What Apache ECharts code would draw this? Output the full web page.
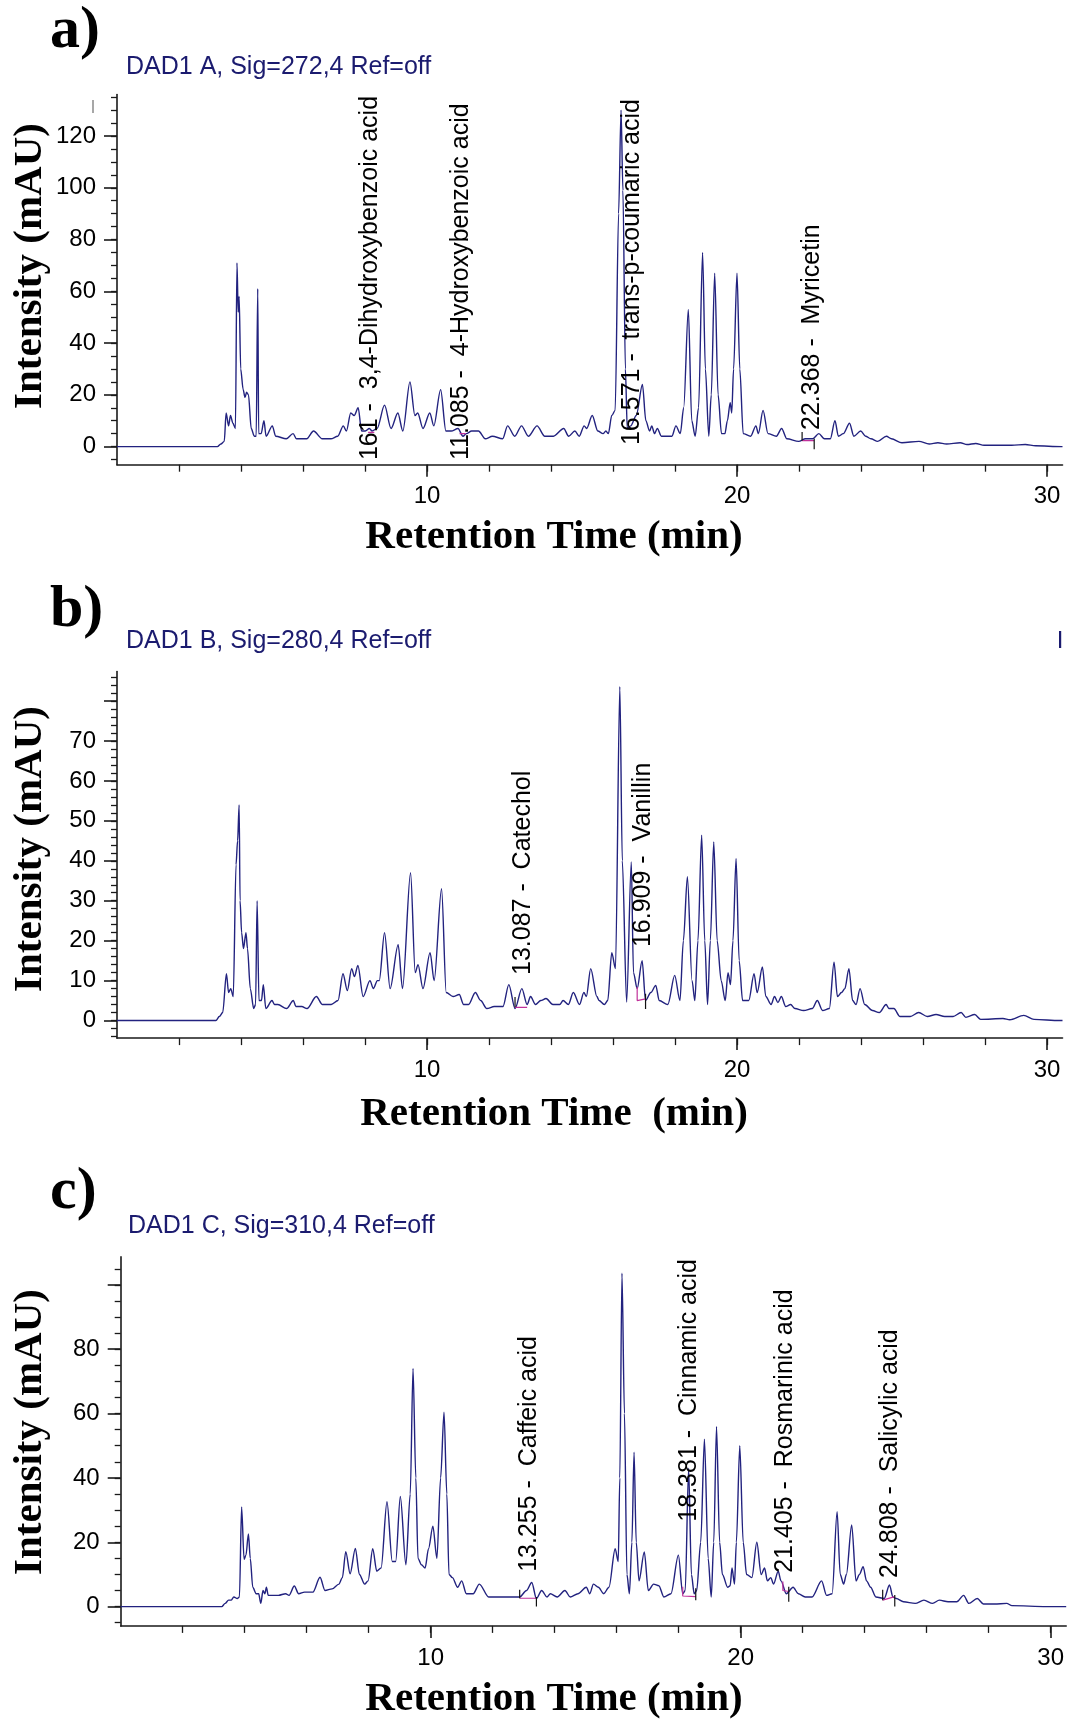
<!DOCTYPE html>
<html><head><meta charset="utf-8">
<script src="https://cdn.jsdelivr.net/npm/echarts@6/dist/echarts.min.js"></script>
<style>html,body{margin:0;padding:0;background:#fff}#c{width:1070px;height:1721px}</style>
</head><body><div id="c"></div><script>
// ---------- DATA (retention time min, intensity mAU) ----------
const traceA = [[0,0],[3.24,0],[3.35,1],[3.46,2],[3.52,13],[3.60,8],[3.66,12],[3.74,9],[3.82,7],[3.87,71],[3.91,52],[3.94,58],[3.99,30],[4.07,22],[4.13,19],[4.18,21],[4.24,20],[4.33,7],[4.43,4],[4.49,4],[4.54,61],[4.57,5],[4.65,5],[4.74,10],[4.81,4],[5.01,8],[5.12,4],[5.46,3],[5.68,5],[5.79,3],[6.12,3],[6.34,6],[6.62,3],[6.90,3],[7.12,4],[7.30,8],[7.40,6],[7.54,13],[7.65,12],[7.78,15],[7.89,6],[8.01,6],[8.14,7],[8.23,6],[8.39,7],[8.63,16],[8.84,7],[9.06,13],[9.22,6],[9.45,25],[9.61,12],[9.70,13],[9.87,7],[10.09,13],[10.22,8],[10.44,22],[10.61,6],[10.78,6],[11.00,7],[11.16,4],[11.27,5],[11.44,6],[11.66,6],[11.88,3],[12.11,4],[12.44,3],[12.60,8],[12.83,4],[13.05,8],[13.27,4],[13.55,8],[13.80,4],[14.08,4],[14.41,7],[14.57,4],[14.77,6],[14.91,4],[15.07,8],[15.15,7],[15.33,12],[15.51,6],[15.68,5],[15.77,6],[15.85,5],[15.96,12],[16.07,14],[16.18,90],[16.26,130],[16.32,99],[16.40,30],[16.46,7],[16.57,8],[16.75,12],[16.95,24],[17.06,10],[17.18,6],[17.25,8],[17.34,5],[17.43,7],[17.56,4],[17.90,4],[18.03,8],[18.17,5],[18.28,15],[18.43,53],[18.54,10],[18.65,4],[18.76,15],[18.89,75],[18.98,30],[19.09,4],[19.17,20],[19.28,67],[19.39,20],[19.50,5],[19.61,5],[19.69,10],[19.78,17],[19.83,13],[19.89,30],[20.00,67],[20.09,30],[20.20,5],[20.44,4],[20.61,8],[20.69,5],[20.84,14],[21.00,5],[21.27,4],[21.44,7],[21.61,3],[21.99,2],[22.21,3],[22.44,3],[22.64,5],[22.82,3],[23.01,3],[23.16,10],[23.27,4],[23.43,5],[23.63,9],[23.77,4],[23.99,6],[24.15,4],[24.32,3],[24.54,2],[24.82,4],[24.98,3],[25.32,1.5],[25.87,2],[26.20,1],[26.48,1.5],[26.76,1],[27.20,1.5],[27.42,0.8],[27.70,1.2],[27.97,0.5],[28.86,0.5],[29.30,0.8],[29.63,0.3],[30.47,0],[30.5,0]];

const traceB = [[0,0],[3.19,0],[3.30,1],[3.41,2],[3.53,11.7],[3.60,7],[3.67,8],[3.75,6],[3.84,39],[3.89,45],[3.94,54],[3.97,30],[4.02,22],[4.08,18],[4.16,22],[4.21,18],[4.30,8],[4.41,3],[4.47,4],[4.52,30],[4.58,5],[4.66,5],[4.72,9],[4.80,3],[5.00,5],[5.08,4],[5.19,4],[5.47,3],[5.69,5],[5.77,3.5],[5.96,3.5],[6.13,3],[6.43,6],[6.63,4],[6.91,4],[7.13,5],[7.29,11.7],[7.43,7.5],[7.57,13],[7.66,11],[7.77,13.8],[7.94,6],[8.16,10],[8.27,8],[8.40,10],[8.46,10],[8.63,22],[8.81,8],[9.07,19],[9.21,8],[9.47,37],[9.62,12],[9.71,14],[9.87,8],[10.10,17],[10.23,10],[10.47,33],[10.62,7],[10.84,6],[11.04,6.5],[11.18,4],[11.34,4],[11.56,7],[11.73,5],[11.93,3],[12.17,3.5],[12.45,3.5],[12.64,9],[12.84,3],[13.06,8],[13.23,4],[13.34,6],[13.50,4],[13.67,5],[13.84,5.5],[14.06,4],[14.28,4],[14.39,5],[14.56,4],[14.72,7],[14.92,4],[15.06,7],[15.14,6],[15.28,13],[15.48,6],[15.55,5],[15.72,4],[15.83,5],[15.96,17],[16.08,13],[16.22,83.6],[16.30,40],[16.44,4.6],[16.59,39.7],[16.66,12],[16.78,8],[16.94,15],[17.05,5],[17.22,7],[17.38,8.8],[17.49,5],[17.77,4],[17.99,11.3],[18.16,5],[18.27,20],[18.40,36],[18.55,10],[18.64,5],[18.74,20],[18.86,46.4],[18.96,20],[19.05,4],[19.14,20],[19.25,44.7],[19.36,20],[19.49,10],[19.62,5],[19.71,12],[19.79,9],[19.87,20],[19.97,40.6],[20.07,15],[20.18,5],[20.38,5],[20.55,11.7],[20.65,7],[20.82,13.4],[20.93,6],[21.10,4],[21.21,6],[21.32,4.5],[21.43,6],[21.57,3.5],[21.73,4],[21.87,3],[22.15,2.5],[22.43,3],[22.59,5],[22.76,2.5],[22.98,3],[23.13,14.6],[23.24,6],[23.37,7],[23.48,8],[23.61,13],[23.73,5],[23.84,4],[23.97,8],[24.12,4],[24.37,2.5],[24.59,2],[24.81,4],[24.90,3],[25.06,3],[25.26,1],[25.59,1],[25.86,2],[26.14,1],[26.42,1.5],[26.70,1],[26.97,1],[27.23,2],[27.38,0.8],[27.67,1.5],[27.86,0.3],[28.58,0.5],[28.80,0.2],[29.25,1.3],[29.58,0.3],[30.41,0],[30.5,0]];

const traceC = [[0,0],[3.26,0],[3.37,1],[3.48,2],[3.56,2],[3.65,3],[3.76,2.5],[3.83,3],[3.90,31],[3.98,14.7],[4.04,16],[4.12,22.6],[4.18,15],[4.26,6],[4.37,4],[4.45,4],[4.52,1],[4.59,5],[4.65,4],[4.70,6],[4.76,3.5],[4.93,3.5],[5.09,3.5],[5.32,4],[5.43,3.5],[5.60,6.4],[5.74,4],[5.93,4.5],[6.20,4.5],[6.43,9.1],[6.59,5],[6.82,5.5],[7.04,7],[7.15,9],[7.26,17.1],[7.40,10.2],[7.57,18.1],[7.70,10],[7.87,7],[7.98,8],[8.13,18],[8.26,11],[8.40,12],[8.59,32.6],[8.76,14],[8.87,14],[9.02,34.2],[9.20,13],[9.34,35],[9.43,74],[9.52,40],[9.59,15],[9.70,13],[9.82,12],[9.93,18],[10.07,25],[10.20,15],[10.32,40],[10.43,60.4],[10.52,35],[10.59,10],[10.70,9],[10.87,6],[11.00,8],[11.15,4],[11.37,4],[11.57,7],[11.87,3],[12.15,3],[12.37,3],[12.65,3],[12.87,3],[13.09,5],[13.26,7.5],[13.41,2.5],[13.58,5],[13.75,3],[13.86,4],[14.08,3],[14.33,5],[14.50,3],[14.75,4],[15.02,6],[15.13,4],[15.25,7],[15.41,6],[15.58,4],[15.75,6],[15.95,18],[16.05,14],[16.10,40],[16.17,103.6],[16.25,60],[16.33,10],[16.41,4],[16.49,20],[16.56,48],[16.63,20],[16.72,8],[16.89,17],[17.02,5],[17.19,7],[17.36,6.5],[17.52,3],[17.75,4],[17.99,16],[18.13,4],[18.21,5],[18.32,43],[18.41,10],[18.50,4],[18.58,5],[18.71,20],[18.83,52],[18.95,15],[19.05,3],[19.13,20],[19.22,56],[19.32,20],[19.41,10],[19.58,6],[19.66,6.5],[19.72,12],[19.80,7],[19.86,20],[19.97,50],[20.08,20],[20.19,10],[20.36,9],[20.52,20],[20.66,10],[20.77,12],[20.86,8],[20.97,9],[21.06,7],[21.21,11],[21.30,8],[21.47,4],[21.69,6],[21.86,4],[22.08,3],[22.30,3],[22.61,8],[22.77,3.5],[22.95,4],[23.11,29.5],[23.21,10],[23.32,7],[23.41,10],[23.58,25.4],[23.72,8],[23.83,10],[23.95,12.4],[24.06,8],[24.19,6],[24.36,3],[24.63,2.5],[24.80,6.7],[24.91,3],[25.02,2.5],[25.25,1.5],[25.63,1],[25.91,2],[26.19,1],[26.41,2],[26.69,1.5],[26.97,1.5],[27.19,3.5],[27.36,1],[27.63,2.5],[27.83,0.8],[28.19,0.8],[28.58,1],[28.75,0.3],[29.86,0],[30.5,0]];

// integration baselines (magenta) and peak start/end ticks (black); '-' breaks the line
const baseA = [[22.10,2.3],[22.49,2.3],['-','-'],[8.10,5.5],[8.30,5.5],['-','-'],[11.05,5],[11.25,5]];
const tickA = [[22.10,5.6],[22.10,2.3],['-','-'],[22.49,3],[22.49,-1]];
const baseB = [[12.84,3.3],[13.23,3.3],['-','-'],[16.78,8.4],[16.78,5],[17.05,5.4]];
const tickB = [[12.84,5.9],[12.84,3.3],['-','-'],[17.05,6.7],[17.05,2.9]];
const baseC = [[12.87,2.6],[13.41,2.6],['-','-'],[18.13,6.2],[18.13,3.3],[18.55,3.1],['-','-'],[21.36,7.8],[21.36,5],[21.55,4.7],['-','-'],[24.58,2],[24.97,3.1]];
const tickC = [[12.87,5.2],[12.87,2.6],['-','-'],[13.41,3],[13.41,0],['-','-'],[18.55,5.7],[18.55,2],['-','-'],[21.55,6.2],[21.55,1.5],['-','-'],[24.58,5.2],[24.58,2],['-','-'],[24.97,3.6],[24.97,0]];

// peak labels: retention time, intensity where the text starts, text
const annA = [[8.16,-5.2,'161 -  3,4-Dihydroxybenzoic acid'],[11.10,-5.2,'11.085 -  4-Hydroxybenzoic acid'],[16.61,0.6,'16.571 -  trans-p-coumaric acid'],[22.42,6.4,'22.368 -  Myricetin']];
const annB = [[13.10,11.4,'13.087 -  Catechol'],[16.98,18.4,'16.909 -  Vanillin']];
const annC = [[13.19,10.8,'13.255 -  Caffeic acid'],[18.35,26.4,'18.381 -  Cinnamic acid'],[21.42,10.5,'21.405 -  Rosmarinic acid'],[24.81,8.9,'24.808 -  Salicylic acid']];

// ticks
const xMajor = [10,20,30];
const xMinor = [2,4,6,8,10,12,14,16,18,20,22,24,26,28,30];
const yMajorA = [0,20,40,60,80,100,120];
const yLabelA = [0,20,40,60,80,100,120];
const yMinorA = [-5,0,5,10,15,20,25,30,35,40,45,50,55,60,65,70,75,80,85,90,95,100,105,110,115,120,125,130,135];
const yMajorB = [0,10,20,30,40,50,60,70,80];
const yLabelB = [0,10,20,30,40,50,60,70];
const yMinorB = [-4,-2,0,2,4,6,8,10,12,14,16,18,20,22,24,26,28,30,32,34,36,38,40,42,44,46,48,50,52,54,56,58,60,62,64,66,68,70,72,74,76,78,80,82,84,86];
const yMajorC = [0,20,40,60,80,100];
const yLabelC = [0,20,40,60,80];
const yMinorC = [-5,0,5,10,15,20,25,30,35,40,45,50,55,60,65,70,75,80,85,90,95,100,105];

const headers = ['DAD1 A, Sig=272,4 Ref=off','DAD1 B, Sig=280,4 Ref=off','DAD1 C, Sig=310,4 Ref=off'];
const tags = ['a)','b)','c)'];
const xTitles = ['Retention Time (min)','Retention Time  (min)','Retention Time (min)'];
const yTitle = 'Intensity (mAU)';

// ---------- LAYOUT ----------
const panels = [
  {grid:{left:117,top:94.6,width:945.5,height:370.1}, yMin:-7, yMax:136, trace:traceA, yMajor:yMajorA, yLabel:yLabelA, yMinor:yMinorA, base:baseA, tick:tickA, ann:annA, headerY:67, tagY:31, yTitleY:266, xTitleY:537},
  {grid:{left:117,top:671.5,width:945.5,height:366.6}, yMin:-4.4, yMax:87.4, trace:traceB, yMajor:yMajorB, yLabel:yLabelB, yMinor:yMinorB, base:baseB, tick:tickB, ann:annB, headerY:641, tagY:610, yTitleY:849, xTitleY:1114},
  {grid:{left:120.7,top:1256.9,width:945.5,height:369}, yMin:-6, yMax:108.7, trace:traceC, yMajor:yMajorC, yLabel:yLabelC, yMinor:yMinorC, base:baseC, tick:tickC, ann:annC, headerY:1226, tagY:1192, yTitleY:1432, xTitleY:1699}
];

const AX = '#1a1a1a';
const SANS = 'Liberation Sans, Arial, sans-serif';
const SERIF = 'Liberation Serif, Times New Roman, serif';
const NAVY = '#1b1b6f';

const grid = [], xAxis = [], yAxis = [], series = [], graphic = [];
panels.forEach((p, g) => {
  grid.push(Object.assign({containLabel:false}, p.grid));
  xAxis.push({type:'value', gridIndex:g, min:0, max:30.5, position:'bottom',
    axisLine:{show:true, onZero:false, lineStyle:{color:AX, width:1.6}},
    axisTick:{show:true, customValues:xMajor, length:12, lineStyle:{color:AX, width:1.6}},
    axisLabel:{show:true, customValues:xMajor, margin:20, color:'#000', fontSize:24, fontFamily:SANS},
    splitLine:{show:false}});
  xAxis.push({type:'value', gridIndex:g, min:0, max:30.5, position:'bottom',
    axisLine:{show:false, onZero:false},
    axisTick:{show:true, customValues:xMinor, length:7, lineStyle:{color:AX, width:1.3}},
    axisLabel:{show:false}, splitLine:{show:false}});
  yAxis.push({type:'value', gridIndex:g, min:p.yMin, max:p.yMax, position:'left',
    axisLine:{show:true, onZero:false, lineStyle:{color:AX, width:1.6}},
    axisTick:{show:true, customValues:p.yMajor, length:13, lineStyle:{color:AX, width:1.6}},
    axisLabel:{show:true, customValues:p.yLabel, margin:21, color:'#000', fontSize:24, fontFamily:SANS},
    splitLine:{show:false}});
  yAxis.push({type:'value', gridIndex:g, min:p.yMin, max:p.yMax, position:'left',
    axisLine:{show:false, onZero:false},
    axisTick:{show:true, customValues:p.yMinor, length:6, lineStyle:{color:AX, width:1.3}},
    axisLabel:{show:false}, splitLine:{show:false}});
  series.push({type:'line', xAxisIndex:2*g, yAxisIndex:2*g, data:p.trace, symbol:'none', silent:true,
    smooth:0.3, smoothMonotone:'x', lineStyle:{color:'#22227f', width:1.4}, z:3});
  series.push({type:'line', xAxisIndex:2*g, yAxisIndex:2*g, data:p.base, symbol:'none', silent:true,
    connectNulls:false, lineStyle:{color:'#c0309a', width:1.2}, z:4});
  series.push({type:'line', xAxisIndex:2*g, yAxisIndex:2*g, data:p.tick, symbol:'none', silent:true,
    connectNulls:false, lineStyle:{color:'#111', width:1.2}, z:4});

  graphic.push({type:'text', x:50, y:p.tagY, style:{text:tags[g], fontSize:60, fontWeight:'bold', fontFamily:SERIF, fill:'#000', align:'left', verticalAlign:'middle'}});
  graphic.push({type:'text', x:g===2?128:126, y:p.headerY, style:{text:headers[g], fontSize:25, fontFamily:SANS, fill:NAVY, align:'left', verticalAlign:'middle'}});
  graphic.push({type:'text', x:30, y:p.yTitleY, rotation:Math.PI/2, style:{text:yTitle, fontSize:41, fontWeight:'bold', fontFamily:SERIF, fill:'#000', align:'center', verticalAlign:'middle'}});
  graphic.push({type:'text', x:554, y:p.xTitleY, style:{text:xTitles[g], fontSize:41, fontWeight:'bold', fontFamily:SERIF, fill:'#000', align:'center', verticalAlign:'middle'}});
});
graphic.push({type:'line', shape:{x1:93, y1:100, x2:93, y2:113}, style:{stroke:'#8a8a8a', lineWidth:1.5}});
graphic.push({type:'text', x:1060, y:641, style:{text:'I', fontSize:24, fontFamily:SANS, fill:NAVY, align:'center', verticalAlign:'middle'}});

const chart = echarts.init(document.getElementById('c'), null, {renderer:'canvas'});
chart.setOption({animation:false, backgroundColor:'#fff', grid, xAxis, yAxis, series, graphic});

// peak labels placed through the axes' scales
const annGraphic = graphic.slice();
panels.forEach((p, g) => {
  p.ann.forEach(a => {
    const pt = chart.convertToPixel({xAxisIndex:2*g, yAxisIndex:2*g}, [a[0], a[1]]);
    annGraphic.push({type:'text', x:pt[0], y:pt[1], rotation:Math.PI/2, z:10,
      style:{text:a[2], fontSize:25, fontFamily:SANS, fill:'#000', align:'left', verticalAlign:'middle'}});
  });
});
chart.setOption({graphic:annGraphic}, {replaceMerge:['graphic']});
</script></body></html>
